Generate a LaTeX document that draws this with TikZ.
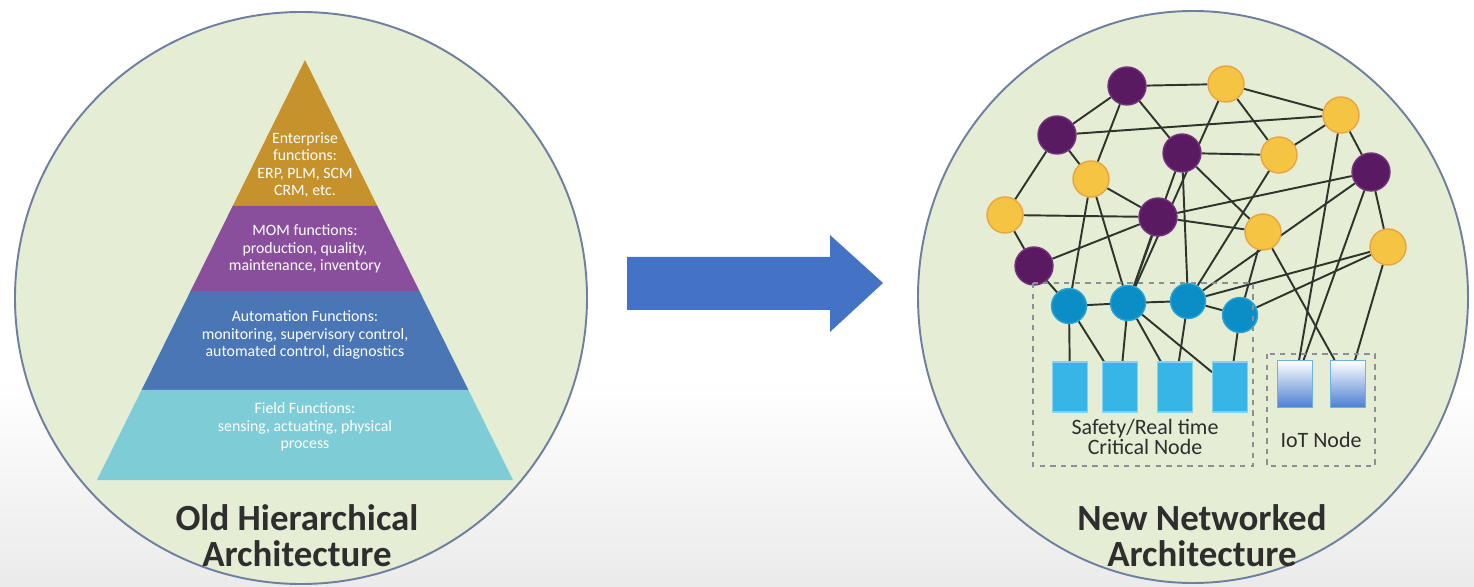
\documentclass[tikz,border=0pt]{standalone}
\usepackage{fontspec}
\setmainfont{Carlito}
\usepackage{tikz}
\usetikzlibrary{positioning}

\pgfdeclarelayer{back}
\pgfdeclarelayer{links}
\pgfsetlayers{back,links,main}

\definecolor{ringfill}{HTML}{E5EDD5}
\definecolor{ringline}{HTML}{6F7FA0}
\definecolor{entcol}{HTML}{C5922C}
\definecolor{momcol}{HTML}{8A4F9C}
\definecolor{autocol}{HTML}{4A76B6}
\definecolor{fieldcol}{HTML}{7ECCD6}
\definecolor{arrowcol}{HTML}{4472C4}
\definecolor{titlegray}{HTML}{2E2E2E}
\definecolor{linkgray}{HTML}{2C362C}
\definecolor{purplefill}{HTML}{5A1A62}
\definecolor{purpleline}{HTML}{73327C}
\definecolor{yellowfill}{HTML}{F6C443}
\definecolor{yellowline}{HTML}{E8A53F}
\definecolor{bluefill}{HTML}{0B8DC5}
\definecolor{blueline}{HTML}{2AA2D4}
\definecolor{sqfill}{HTML}{36B6E6}
\definecolor{sqline}{HTML}{84D2F0}
\definecolor{iotblue}{HTML}{4C7FD3}
\definecolor{dashgray}{HTML}{8A9096}

\begin{document}
\begin{tikzpicture}[
  x=0.02cm, y=-0.02cm,
  ring/.style={draw=ringline, line width=1.1pt, fill=ringfill},
  layertext/.style={align=center, text=white, font=\fontsize{9}{9.8}\selectfont},
  title/.style={align=center, text=titlegray, font=\fontsize{21}{20.5}\selectfont\bfseries},
  purplenode/.style={circle, draw=purpleline, line width=0.8pt, fill=purplefill, minimum size=0.76cm, inner sep=0pt},
  yellownode/.style={circle, draw=yellowline, line width=0.8pt, fill=yellowfill, minimum size=0.72cm, inner sep=0pt},
  bluenode/.style={circle, draw=blueline, line width=0.8pt, fill=bluefill, minimum size=0.70cm, inner sep=0pt},
  sqnode/.style={rectangle, draw=sqline, line width=0.6pt, fill=sqfill, minimum width=0.70cm, minimum height=1.0cm, inner sep=0pt},
  iotnode/.style={rectangle, draw=sqline!60!iotblue, line width=0.6pt, top color=white, bottom color=iotblue, minimum width=0.70cm, minimum height=0.94cm, inner sep=0pt},
  dashbox/.style={draw=dashgray, dashed, line width=0.8pt},
  grouplabel/.style={align=center, text=titlegray, font=\fontsize{12.5}{11.8}\selectfont},
  link/.style={draw=linkgray, line width=1.1pt}
]
\useasboundingbox (0,0) rectangle (1474,587);

\begin{pgfonlayer}{back}
\shade[top color=white, bottom color=black!8] (0,380) rectangle (1474,587);
\draw[ring] (301,298) circle [radius=286];
\draw[ring] (1193,297) ellipse [x radius=275, y radius=286];
\end{pgfonlayer}

% pyramid
\fill[entcol] (305,60) -- (377.3,206) -- (232.7,206) -- cycle;
\fill[momcol] (232.7,206) -- (377.3,206) -- (419.4,291) -- (190.6,291) -- cycle;
\fill[autocol] (190.6,291) -- (419.4,291) -- (468.4,390) -- (141.6,390) -- cycle;
\fill[fieldcol] (141.6,390) -- (468.4,390) -- (513,480) -- (97,480) -- cycle;

\node[layertext] (ent) at (305,165) {Enterprise\\functions:\\ERP, PLM, SCM\\CRM, etc.};
\node[layertext] (mom) at (305,249) {MOM functions:\\production, quality,\\maintenance, inventory};
\node[layertext] (auto) at (305,335) {Automation Functions:\\monitoring, supervisory control,\\automated control, diagnostics};
\node[layertext] (field) at (305,427) {Field Functions:\\sensing, actuating, physical\\process};

\node[title] (oldtitle) at (297,536) {Old Hierarchical\\Architecture};

% arrow
\fill[arrowcol] (627,257) -- (830,257) -- (830,235) -- (883,283) -- (830,332) -- (830,310) -- (627,310) -- cycle;

% network nodes
\node[purplenode] (p1) at (1127,86) {};
\node[purplenode] (p2) at (1057,135) {};
\node[purplenode] (p3) at (1182,153) {};
\node[purplenode] (p4) at (1371,172) {};
\node[purplenode] (p5) at (1158,217) {};
\node[purplenode] (p6) at (1034,266) {};

\node[yellownode] (y1) at (1226,84) {};
\node[yellownode] (y2) at (1341,115) {};
\node[yellownode] (y3) at (1279,155) {};
\node[yellownode] (y4) at (1091,179) {};
\node[yellownode] (y5) at (1005,215) {};
\node[yellownode] (y6) at (1263,232) {};
\node[yellownode] (y7) at (1388,247) {};

\node[bluenode] (b1) at (1069,306) {};
\node[bluenode] (b2) at (1128,303) {};
\node[bluenode] (b3) at (1188,301) {};
\node[bluenode] (b4) at (1240,315) {};

\node[sqnode] (s1) at (1070,387) {};
\node[sqnode] (s2) at (1120,387) {};
\node[sqnode] (s3) at (1175,387) {};
\node[sqnode] (s4) at (1230,387) {};

\node[iotnode] (i1) at (1295,384) {};
\node[iotnode] (i2) at (1348,384) {};

% groups
\draw[dashbox] (1033,283) rectangle (1253,466);
\draw[dashbox] (1267,354) rectangle (1375,466);
\node[grouplabel] (safety) at (1145,437) {Safety/Real time\\Critical Node};
\node[grouplabel] (iot) at (1321,440) {IoT Node};

\begin{pgfonlayer}{links}
\draw[link] (p1) -- (y1);
\draw[link] (y1) -- (y2);
\draw[link] (p1) -- (p2);
\draw[link] (p2) -- (y2);
\draw[link] (p1) -- (p3);
\draw[link] (p1) -- (y4);
\draw[link] (p2) -- (y4);
\draw[link] (p2) -- (y5);
\draw[link] (y5) -- (p6);
\draw[link] (y5) -- (p5);
\draw[link] (y4) -- (p5);
\draw[link] (p3) -- (y3);
\draw[link] (y3) -- (y2);
\draw[link] (y1) -- (y3);
\draw[link] (y1) -- (b2);
\draw[link] (p3) -- (y6);
\draw[link] (p3) -- (b2);
\draw[link] (p3) -- (b3);
\draw[link] (p5) -- (p4);
\draw[link] (p5) -- (y6);
\draw[link] (p6) -- (p5);
\draw[link] (p6) -- (b1);
\draw[link] (y4) -- (b1);
\draw[link] (y4) -- (b2);
\draw[link] (p5) -- (b2);
\draw[link] (p4) -- (y2);
\draw[link] (p4) -- (y7);
\draw[link] (p4) -- (b3);
\draw[link] (p4) -- (i1);
\draw[link] (y2) -- (i1);
\draw[link] (y7) -- (i2);
\draw[link] (y7) -- (b4);
\draw[link] (y7) -- (b3);
\draw[link] (y6) -- (i2);
\draw[link] (y6) -- (b4);
\draw[link] (y3) -- (b3);
\draw[link] (b1) -- (b2);
\draw[link] (b2) -- (b3);
\draw[link] (b3) -- (b4);
\draw[link] (b1) -- (s1);
\draw[link] (b1) -- (s2);
\draw[link] (b2) -- (s2);
\draw[link] (b2) -- (s3);
\draw[link] (b2) -- (s4);
\draw[link] (b3) -- (s3);
\draw[link] (b4) -- (s4);
\end{pgfonlayer}

\node[title] (newtitle) at (1202,536) {New Networked\\Architecture};

\end{tikzpicture}
\end{document}
